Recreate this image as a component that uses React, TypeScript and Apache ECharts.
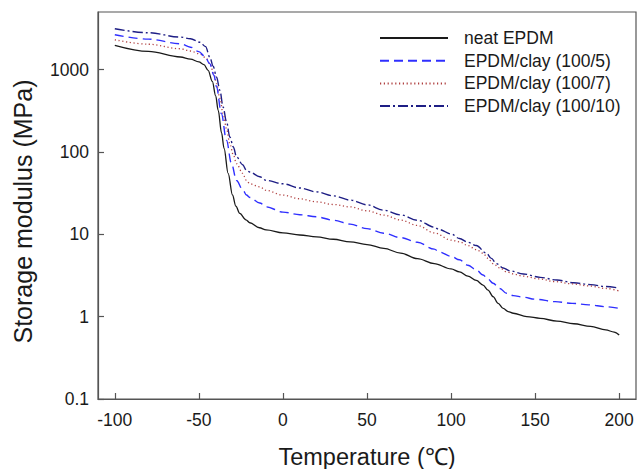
import React, { useEffect, useRef } from "react";
import * as echarts from "echarts";

// Temperature (°C) / storage modulus (MPa) pairs
const neatEPDM: [number, number][] = [
  [-100, 1965], [-80, 1660], [-61, 1420], [-55, 1340], [-50, 1240], [-47, 1150],
  [-44.5, 980], [-42, 720], [-40, 480], [-38.5, 320], [-36.5, 170], [-35, 110],
  [-32.6, 55], [-30, 30], [-28, 22], [-25.7, 17.9], [-22, 15], [-19.7, 13.8],
  [-14, 12], [-10, 11.3], [0, 10.4], [10, 9.8], [20, 9.3], [30, 8.7], [40, 8.1],
  [50, 7.5], [60, 6.75], [70, 5.9], [80, 5.05], [90, 4.4], [100, 3.8], [105, 3.5],
  [110, 3.1], [115, 2.75], [119, 2.42], [122, 2.1], [125, 1.75], [128, 1.45],
  [131, 1.26], [134, 1.15], [137, 1.1], [145, 1.0], [153, 0.955], [163, 0.88],
  [173, 0.82], [183, 0.76], [192, 0.69], [197, 0.65], [200, 0.6],
];

const clay5: [number, number][] = [
  [-100, 2650], [-80, 2340], [-61, 2060], [-55, 1870], [-50, 1650], [-46.5, 1450],
  [-43.5, 1180], [-41, 850], [-39.5, 615], [-36.6, 292], [-33.6, 139], [-30.6, 72],
  [-27.6, 45], [-24, 35], [-21.7, 30], [-19.7, 28], [-13.8, 24], [-9.8, 21.5],
  [0, 18.6], [10, 17.3], [20, 16.3], [30, 14.8], [40, 13.3], [50, 11.7], [60, 10.3],
  [70, 9.1], [80, 8.0], [90, 6.6], [93, 6.1], [100, 5.4], [105, 4.9], [110, 4.2],
  [115, 3.7], [119, 3.2], [122, 2.85], [125, 2.54], [129, 2.2], [133, 1.92],
  [137, 1.8], [143, 1.72], [150, 1.63], [162, 1.52], [172, 1.45], [182, 1.39],
  [192, 1.32], [200, 1.26],
];

const clay7: [number, number][] = [
  [-100, 2300], [-80, 2030], [-61, 1790], [-55, 1680], [-49.5, 1550], [-46, 1400],
  [-43.5, 1180], [-41, 880], [-39.5, 675], [-37.5, 450], [-35.6, 292], [-33.5, 190],
  [-31.6, 126], [-29.5, 92], [-27.6, 72], [-24, 55], [-21.7, 45], [-19.7, 41],
  [-13.8, 37.7], [-9.8, 34], [0, 29.9], [10, 27], [20, 24.8], [30, 23], [40, 21.5],
  [50, 19.3], [60, 17.1], [70, 14.9], [80, 12.8], [90, 10.4], [100, 8.5], [105, 8.1],
  [110, 7.3], [115, 6.5], [119, 5.9], [122, 5.1], [125, 4.4], [129, 3.9], [133, 3.5],
  [137, 3.3], [143, 3.1], [152, 2.88], [162, 2.66], [172, 2.5], [182, 2.36],
  [192, 2.2], [200, 2.05],
];

const clay10: [number, number][] = [
  [-100, 3130], [-80, 2800], [-61, 2480], [-55, 2370], [-49.5, 2150], [-46, 1900],
  [-43.5, 1420], [-41.5, 1100], [-39.5, 811], [-37.5, 560], [-35.6, 351], [-33.5, 230],
  [-31.6, 152], [-29.5, 115], [-27.6, 87], [-24, 70], [-21.7, 60], [-19.7, 57],
  [-13.8, 50], [-9.8, 45], [0, 41], [10, 36.5], [20, 32.7], [30, 29.3], [40, 26],
  [50, 22.8], [60, 19.6], [70, 17.2], [80, 14.8], [90, 12.2], [93, 11.4], [100, 10.1],
  [105, 8.9], [110, 8.0], [115, 7.3], [121, 5.9], [124, 5.1], [127, 4.4], [131, 3.9],
  [135, 3.6], [143, 3.3], [153, 3.0], [163, 2.78], [173, 2.58], [183, 2.45],
  [192, 2.32], [200, 2.22],
];

const seriesNames = [
  "neat EPDM",
  "EPDM/clay (100/5)",
  "EPDM/clay (100/7)",
  "EPDM/clay (100/10)",
];

const xTicks = [-100, -50, 0, 50, 100, 150, 200];

const FONT = "'Liberation Sans', Arial, Helvetica, sans-serif";
const TEXT = "#1a1a1a";
const AXIS = "#555555";

export default function App() {
  const ref = useRef<HTMLDivElement>(null);

  useEffect(() => {
    document.body.style.margin = "0";
    if (!ref.current) return;
    const chart = echarts.init(ref.current, undefined, { renderer: "svg" });

    const styles = [
      { color: "#1a1a1a", type: "solid" as any, width: 1.3 },
      { color: "#2f2fff", type: [9, 5] as any, width: 1.4 },
      { color: "#b04040", type: [1.2, 2.6] as any, width: 1.3 },
      { color: "#1e1e85", type: [10, 3, 2, 3] as any, width: 1.4 },
    ];
    const datas = [neatEPDM, clay5, clay7, clay10];

    chart.setOption({
      animation: false,
      backgroundColor: "#ffffff",
      textStyle: { fontFamily: FONT },
      grid: {
        left: 98,
        right: 2,
        top: 12,
        bottom: 70,
        show: true,
        borderColor: AXIS,
        borderWidth: 1.2,
        containLabel: false,
        outerBoundsMode: "none",
      },
      legend: {
        left: 374,
        top: 24,
        orient: "vertical",
        itemWidth: 68,
        itemHeight: 14,
        itemGap: 4.7,
        data: seriesNames,
        itemStyle: {
          color: "transparent",
          borderColor: "transparent",
          borderWidth: 0,
          opacity: 0,
        },
        textStyle: {
          fontFamily: FONT,
          fontSize: 17.5,
          color: TEXT,
          lineHeight: 18,
          padding: [0, 0, 0, 11],
        },
      },
      xAxis: {
        type: "value",
        min: -110,
        max: 210,
        name: "Temperature (℃)",
        nameLocation: "middle",
        nameGap: 46,
        nameTextStyle: { fontFamily: FONT, fontSize: 23.5, color: TEXT },
        splitLine: { show: false },
        axisLine: { show: true, onZero: false, lineStyle: { color: AXIS, width: 1.2 } },
        axisTick: {
          show: true,
          inside: true,
          length: 6,
          customValues: xTicks,
          lineStyle: { color: AXIS, width: 1.2 },
        },
        axisLabel: {
          customValues: xTicks,
          fontFamily: FONT,
          fontSize: 17.5,
          color: TEXT,
          margin: 12,
        },
      },
      yAxis: {
        type: "log",
        logBase: 10,
        min: 0.1,
        max: 5000,
        name: "Storage modulus (MPa)",
        nameLocation: "middle",
        nameGap: 63,
        nameTextStyle: {
          fontFamily: FONT,
          fontSize: 25,
          color: TEXT,
          padding: [0, 12, 0, 0],
        },
        splitLine: { show: false },
        axisLine: { show: true, onZero: false, lineStyle: { color: AXIS, width: 1.2 } },
        axisTick: {
          show: true,
          inside: true,
          length: 6,
          lineStyle: { color: AXIS, width: 1.2 },
        },
        axisLabel: {
          fontFamily: FONT,
          fontSize: 17.5,
          color: TEXT,
          margin: 9,
          showMaxLabel: false,
          formatter: (v: number) => String(Number(v.toPrecision(4))),
        },
      },
      series: datas.map((d, i) => ({
        name: seriesNames[i],
        type: "line",
        data: d,
        symbol: "none",
        showSymbol: false,
        smooth: 0.35,
        smoothMonotone: "x",
        color: styles[i].color,
        lineStyle: styles[i],
        z: 10 - i,
      })),
    });

    return () => chart.dispose();
  }, []);

  return (
    <div
      ref={ref}
      style={{ position: "fixed", left: 0, top: 0, width: 638, height: 469 }}
    />
  );
}
